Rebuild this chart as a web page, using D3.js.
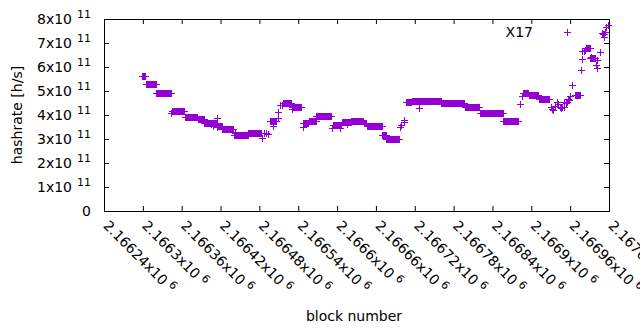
<!DOCTYPE html>
<html>
<head>
<meta charset="utf-8">
<script src="https://cdn.jsdelivr.net/npm/d3@7"></script>
<style>
body { margin: 0; background: #fff; }
text { font-family: "DejaVu Sans", sans-serif; font-size: 14px; fill: #000; }
</style>
</head>
<body>
<div id="chart"></div>
<script>
// Canvas and plot box
const width = 640;
const height = 330;
const plot = {left: 104, right: 609, top: 19, bottom: 211};

// Flat stretches: every block from runStart to runEnd has the same hashrate (x10^11 h/s)
const runStart = [2166298, 2166305, 2166321, 2166345, 2166365, 2166385, 2166395, 2166415, 2166423, 2166441,
                  2166463, 2166496, 2166516, 2166531, 2166548, 2166556, 2166568, 2166593, 2166607, 2166622,
                  2166641, 2166646, 2166670, 2166676, 2166707, 2166715, 2166761, 2166797, 2166820, 2166857,
                  2166887, 2166896, 2166912, 2166967, 2166984, 2166991];
const runEnd   = [2166304, 2166320, 2166343, 2166364, 2166384, 2166394, 2166414, 2166422, 2166440, 2166462,
                  2166483, 2166505, 2166529, 2166545, 2166555, 2166567, 2166590, 2166606, 2166621, 2166640,
                  2166645, 2166669, 2166675, 2166695, 2166714, 2166760, 2166796, 2166819, 2166856, 2166878,
                  2166895, 2166911, 2166928, 2166975, 2166990, 2166998];
const runRate  = [5.61, 5.28, 4.90, 4.15, 3.90, 3.82, 3.68, 3.53, 3.40, 3.15,
                  3.26, 3.74, 4.52, 4.35, 3.65, 3.76, 3.97, 3.58, 3.72, 3.77,
                  3.68, 3.54, 3.15, 3.00, 4.53, 4.58, 4.49, 4.32, 4.08, 3.75,
                  4.93, 4.85, 4.66, 4.85, 6.78, 6.36];

// Single scattered blocks
const dotBlock = [2166344, 2166405, 2166408, 2166414, 2166415, 2166442, 2166484, 2166487, 2166490, 2166493,
                  2166501, 2166508, 2166509, 2166512, 2166515, 2166530, 2166547, 2166592, 2166604, 2166615,
                  2166697, 2166699, 2166703, 2166704, 2166727, 2166880, 2166883, 2166885,
                  2166930, 2166932, 2166934, 2166936, 2166939, 2166941, 2166944, 2166946, 2166948, 2166950,
                  2166951, 2166953, 2166955, 2166956, 2166958, 2166960, 2166963,
                  2166977, 2166978, 2166979, 2166981, 2166983, 2166992, 2167000, 2167001, 2167001, 2167006,
                  2167009, 2167011, 2167012, 2167013, 2167014, 2167016, 2167019];
const dotRate  = [4.07, 3.63, 3.54, 3.86, 3.50, 3.24, 3.03, 3.24, 3.26, 3.22,
                  3.54, 3.86, 4.11, 4.42, 4.42, 4.25, 3.49, 3.45, 3.47, 3.63,
                  3.49, 3.58, 3.70, 3.80, 4.30, 3.76, 4.46, 4.79,
                  4.32, 4.24, 4.22, 4.38, 4.55, 4.45, 4.35, 4.28, 4.35, 4.32,
                  4.55, 4.50, 4.55, 4.67, 4.62, 4.79, 5.25,
                  5.88, 6.32, 6.67, 6.67, 6.70, 6.42, 6.10, 6.29, 5.95, 6.64,
                  7.40, 7.38, 7.26, 7.38, 7.45, 7.68, 7.75];

// Ticks
const xTickValues = [2166240, 2166300, 2166360, 2166420, 2166480, 2166540, 2166600, 2166660,
                     2166720, 2166780, 2166840, 2166900, 2166960, 2167020];
const xTickLabels = ["2.16624", "2.1663", "2.16636", "2.16642", "2.16648", "2.16654", "2.1666",
                     "2.16666", "2.16672", "2.16678", "2.16684", "2.1669", "2.16696", "2.16702"];
const yTickValues = [0, 1, 2, 3, 4, 5, 6, 7, 8];
const yTickLabels = ["0", "1", "2", "3", "4", "5", "6", "7", "8"];

const seriesName = "X17";
const color = "#9400d3";

// build one point per block
const points = [];
runStart.forEach((s, i) => {
    for (let b = s; b <= runEnd[i]; b++) points.push({block: b, rate: runRate[i]});
});
dotBlock.forEach((b, i) => points.push({block: b, rate: dotRate[i]}));

const x = d3.scaleLinear().domain([2166240, 2167020]).range([plot.left, plot.right]);
const y = d3.scaleLinear().domain([0, 8]).range([plot.bottom, plot.top]);

const svg = d3.select("#chart").append("svg")
    .attr("width", width)
    .attr("height", height);

// inward ticks on all four sides
const tick = 5;
svg.append("g").attr("transform", `translate(0,${plot.bottom})`)
    .call(d3.axisBottom(x).tickValues(xTickValues).tickSize(-tick).tickFormat(""));
svg.append("g").attr("transform", `translate(0,${plot.top})`)
    .call(d3.axisTop(x).tickValues(xTickValues).tickSize(-tick).tickFormat(""));
svg.append("g").attr("transform", `translate(${plot.left},0)`)
    .call(d3.axisLeft(y).tickValues(yTickValues).tickSize(-tick).tickFormat(""));
svg.append("g").attr("transform", `translate(${plot.right},0)`)
    .call(d3.axisRight(y).tickValues(yTickValues).tickSize(-tick).tickFormat(""));
svg.selectAll(".domain").remove();
svg.selectAll(".tick line").attr("stroke", "#000");

svg.append("rect")
    .attr("x", plot.left + 0.5).attr("y", plot.top + 0.5)
    .attr("width", plot.right - plot.left).attr("height", plot.bottom - plot.top)
    .attr("fill", "none").attr("stroke", "#000");

// y tick labels
yTickValues.forEach((v, i) => {
    const t = svg.append("text")
        .attr("x", 91).attr("y", y(v) + 5)
        .attr("text-anchor", "end");
    if (v === 0) {
        t.text(yTickLabels[i]);
    } else {
        t.append("tspan").text(yTickLabels[i] + "x10");
        t.append("tspan").attr("dx", 5).attr("dy", -6).style("font-size", "11px").text("11");
    }
});

// x tick labels, rotated
xTickValues.forEach((v, i) => {
    const t = svg.append("text")
        .attr("transform", `translate(${x(v) + 2},${plot.bottom + 12}) rotate(45)`)
        .attr("y", 5);
    t.append("tspan").text(xTickLabels[i] + "x10");
    t.append("tspan").attr("dx", 4).attr("dy", -5).style("font-size", "11px").text("6");
});

// axis titles
svg.append("text")
    .attr("transform", `translate(22,${(plot.top + plot.bottom) / 2}) rotate(-90)`)
    .attr("text-anchor", "middle")
    .text("hashrate [h/s]");
svg.append("text")
    .attr("x", 354).attr("y", 321)
    .attr("text-anchor", "middle")
    .text("block number");

// markers
const plus = "M-3.5,0h7M0,-3.5v7";
svg.append("g")
    .selectAll("path")
    .data(points)
    .enter()
    .append("path")
    .attr("d", plus)
    .attr("transform", d => `translate(${Math.round(x(d.block)) + 0.5},${Math.round(y(d.rate)) + 0.5})`)
    .attr("fill", "none")
    .attr("stroke", color)
    .attr("stroke-width", 1);

// key
svg.append("text")
    .attr("x", 533).attr("y", 37)
    .attr("text-anchor", "end")
    .text(seriesName);
svg.append("path")
    .attr("d", plus)
    .attr("transform", "translate(567.5,32.5)")
    .attr("fill", "none")
    .attr("stroke", color);
</script>
</body>
</html>
